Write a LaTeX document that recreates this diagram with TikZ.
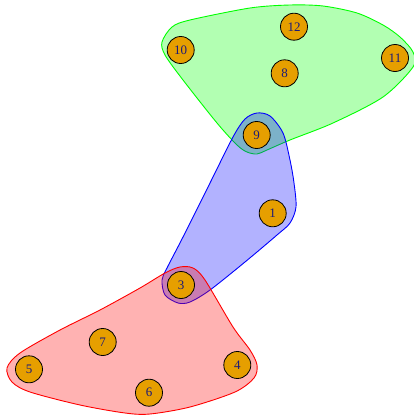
\documentclass[tikz,border=0pt]{standalone}
\usepackage{fontspec}
\setmainfont{Liberation Serif}
\usepackage{tikz}
\usetikzlibrary{positioning}

\definecolor{vorange}{HTML}{E69F00}
\definecolor{vlabel}{HTML}{1A1A7A}
\definecolor{ggreen}{HTML}{00FF00}
\definecolor{gblue}{HTML}{0000FF}
\definecolor{gred}{HTML}{FF0000}

\begin{document}
\begin{tikzpicture}[
    x=1pt, y=-1pt,
    vertex/.style={circle, draw=black, line width=0.8pt, fill=vorange, minimum size=27pt, inner sep=0pt, text=vlabel, font=\fontsize{13}{13}\selectfont},
    group/.style={line width=0.9pt, fill opacity=0.3}
]
\useasboundingbox (0,0) rectangle (413,415);

% The groups
\draw[group, draw=ggreen, fill=ggreen] plot[smooth cycle, tension=0.5] coordinates {
    (162,42) (172,27) (190,20) (250,8) (290,5) (323,6) (357,13) (383,25) (400,37) (413,52)
    (413,67) (383,97) (333,123) (290,140) (267,150) (257,154) (247,152) (237,145) (217,123)
    (183,80) (165,55)};
\draw[group, draw=gblue, fill=gblue] plot[smooth cycle, tension=0.5] coordinates {
    (257,113) (270,116) (283,133) (290,160) (294,183) (296,207) (290,223) (277,235) (245,262)
    (210,290) (190,302) (178,303) (165,295) (162,280) (167,268) (183,237) (210,183) (233,137)
    (245,119)};
\draw[group, draw=gred, fill=gred] plot[smooth cycle, tension=0.5] coordinates {
    (180,267) (193,268) (205,280) (233,327) (250,350) (257,365) (254,378) (235,392) (190,407)
    (150,414) (125,413) (80,405) (30,392) (12,382) (7,368) (20,353) (60,330) (100,310)
    (140,288) (165,273)};

% The vertices
\node[vertex] (v1) at (272.7,213.3) {1};
\node[vertex] (v3) at (181,285) {3};
\node[vertex] (v4) at (237.3,365) {4};
\node[vertex] (v5) at (29,369.3) {5};
\node[vertex] (v6) at (149,392.7) {6};
\node[vertex] (v7) at (102.7,342) {7};
\node[vertex] (v8) at (284.7,73.3) {8};
\node[vertex] (v9) at (256.7,135) {9};
\node[vertex] (v10) at (180.7,50) {10};
\node[vertex] (v11) at (395,58) {11};
\node[vertex] (v12) at (294,26.7) {12};

\end{tikzpicture}
\end{document}
